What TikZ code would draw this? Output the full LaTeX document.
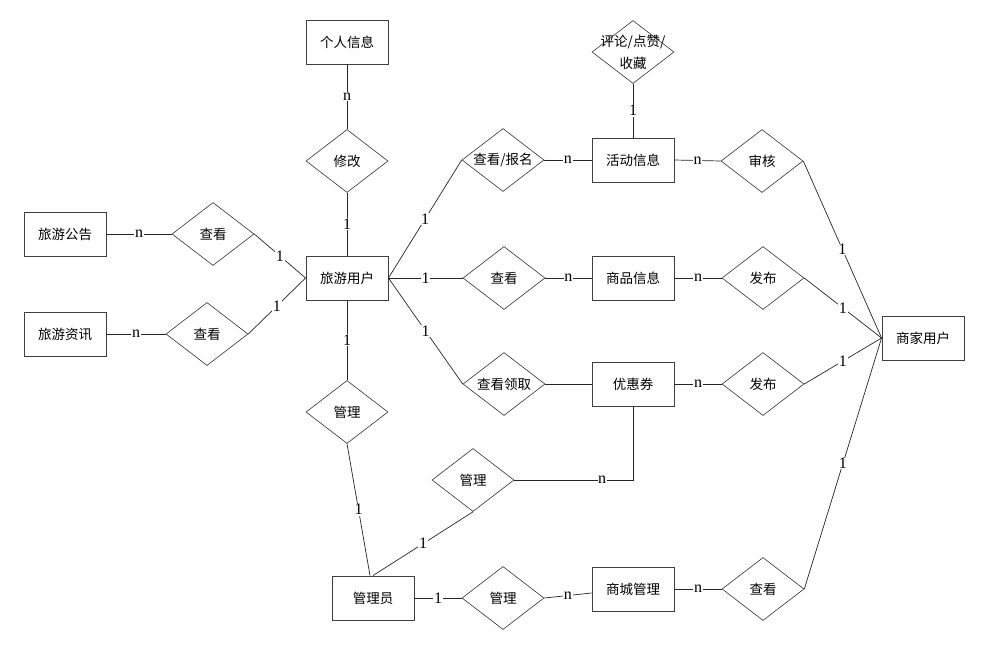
\documentclass[tikz,border=0pt]{standalone}
\usepackage{fontspec}
\setmainfont{Liberation Serif}
\newfontfamily\cjk{Noto Sans CJK SC}
\usetikzlibrary{shapes.geometric}
\begin{document}
\begin{tikzpicture}[x=1pt,y=-1pt,
  ent/.style={draw=black!75, line width=0.9pt, minimum width=82pt, minimum height=44pt, inner sep=0pt, font=\cjk\fontsize{13.5}{16}\selectfont},
  rel/.style={diamond, draw=black!80, line width=0.6pt, minimum width=82pt, minimum height=63pt, inner sep=0pt},
  rt/.style={font=\cjk\fontsize{13.5}{22}\selectfont, inner sep=0pt},
  conn/.style={draw=black!85, line width=0.7pt},
  card/.style={fill=white, inner sep=0.6pt, font=\fontsize{16}{16}\selectfont}]
\useasboundingbox[fill=white] (0,0) rectangle (998,649);
% entities
\node[ent] (info) at (347,42) {个人信息};
\node[ent] (act) at (633,160) {活动信息};
\node[ent] (notice) at (65,234) {旅游公告};
\node[ent] (news) at (65,334) {旅游资讯};
\node[ent] (user) at (347,278) {旅游用户};
\node[ent] (goods) at (633,278) {商品信息};
\node[ent] (coupon) at (633,384) {优惠券};
\node[ent] (admin) at (373,598) {管理员};
\node[ent] (mall) at (633,589) {商城管理};
\node[ent] (merch) at (923,338) {商家用户};
% relations
\node[rel, label={[rt, align=center]center:评论/点赞/\\收藏}] (comment) at (633,52) {};
\node[rel, label={[rt]center:审核}] (audit) at (762,161) {};
\node[rel, label={[rt]center:发布}] (pub1) at (763,278) {};
\node[rel, label={[rt]center:发布}] (pub2) at (763,384) {};
\node[rel, label={[rt]center:查看}] (view4) at (763,589) {};
\node[rel, label={[rt]center:修改}] (modify) at (347,161) {};
\node[rel, label={[rt]center:查看/报名}] (signup) at (503,160) {};
\node[rel, label={[rt]center:查看}] (view2) at (504,278) {};
\node[rel, label={[rt]center:查看领取}] (getc) at (504,384) {};
\node[rel, label={[rt]center:查看}] (view0) at (213,234) {};
\node[rel, label={[rt]center:查看}] (view1) at (207,334) {};
\node[rel, label={[rt]center:管理}] (mgr1) at (347,412) {};
\node[rel, label={[rt]center:管理}] (mgr2) at (473,480) {};
\node[rel, label={[rt]center:管理}] (mgr3) at (503,598) {};
% connectors
\draw[conn] (info.south) -- node[card]{n} (modify.north);
\draw[conn] (modify.south) -- node[card]{1} (user.north);
\draw[conn] (user.south) -- node[card]{1} (mgr1.north);
\draw[conn] (mgr1.south) -- node[card]{1} ([xshift=-3pt]admin.north);
\draw[conn] (admin.north) -- node[card]{1} (mgr2.south);
\draw[conn] (mgr2.east) -- node[card, pos=0.74]{n} (coupon.south |- mgr2.east) -- (coupon.south);
\draw[conn] (admin.east) -- node[card]{1} (mgr3.west);
\draw[conn] (mgr3.east) -- node[card]{n} ([yshift=-4pt]mall.west);
\draw[conn] (mall.east) -- node[card]{n} (view4.west);
\draw[conn] (view4.east) -- node[card]{1} (merch.west);
\draw[conn] (pub2.east) -- node[card]{1} (merch.west);
\draw[conn] (pub1.east) -- node[card]{1} (merch.west);
\draw[conn] (audit.east) -- node[card]{1} (merch.west);
\draw[conn] (act.east) -- node[card]{n} (audit.west);
\draw[conn] (goods.east) -- node[card]{n} (pub1.west);
\draw[conn] (coupon.east) -- node[card]{n} (pub2.west);
\draw[conn] (signup.east) -- node[card]{n} (act.west);
\draw[conn] (view2.east) -- node[card]{n} (goods.west);
\draw[conn] (getc.east) -- (coupon.west);
\draw[conn] (user.east) -- node[card]{1} (signup.west);
\draw[conn] (user.east) -- node[card]{1} (view2.west);
\draw[conn] (user.east) -- node[card]{1} (getc.west);
\draw[conn] (notice.east) -- node[card]{n} (view0.west);
\draw[conn] (view0.east) -- node[card]{1} (user.west);
\draw[conn] (news.east) -- node[card]{n} (view1.west);
\draw[conn] (view1.east) -- node[card]{1} (user.west);
\draw[conn] (comment.south) -- node[card]{1} (act.north);
\end{tikzpicture}
\end{document}
